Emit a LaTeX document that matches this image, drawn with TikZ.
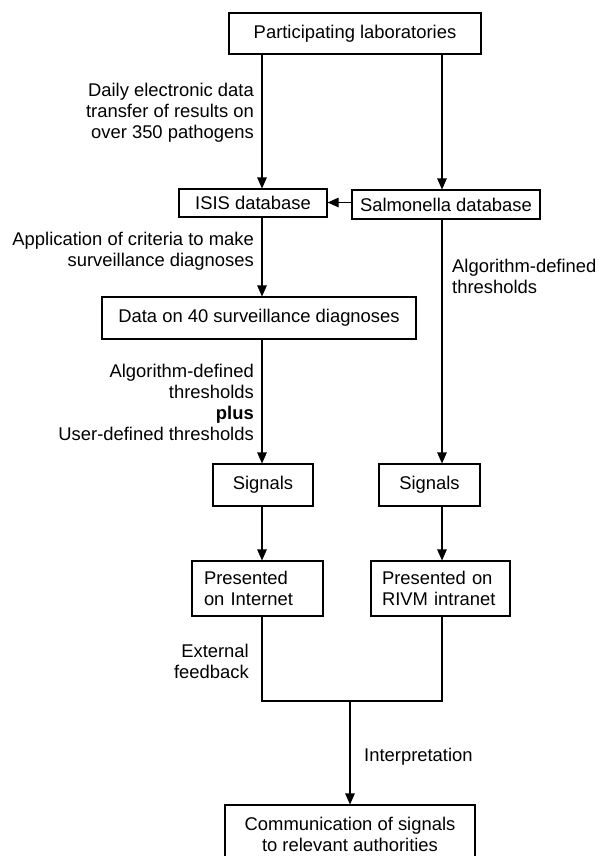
\documentclass[tikz,border=0pt]{standalone}
\usepackage{fontspec}
\setmainfont{Liberation Sans}
\usetikzlibrary{arrows.meta}
\begin{document}
\begin{tikzpicture}[x=1pt,y=-1pt,
  every node/.style={font=\fontsize{18.4}{21}\selectfont},
  box/.style={draw, line width=1.1pt, rectangle, inner sep=0pt, align=center},
  lbl/.style={inner sep=0pt},
  arr/.style={line width=1.1pt, -{Triangle[length=11pt,width=9.5pt]}},
  conn/.style={line width=1.1pt}]
\useasboundingbox (0,0) rectangle (598,856);
\fill[white] (0,0) rectangle (598,856);

\coordinate (lx) at (262,0);
\coordinate (rx) at (442,0);
\coordinate (j) at (350,701);

\node[box, minimum width=252pt, minimum height=41pt] (lab) at (355,33.5)
  {\raisebox{-6pt}{Participating laboratories}};
\node[box, minimum width=148pt, minimum height=28pt] (isis) at (253,203)
  {\raisebox{-1pt}{ISIS database}};
\node[box, minimum width=188pt, minimum height=29pt] (salm) at (446,204.5)
  {\raisebox{-1pt}{Salmonella database}};
\node[box, minimum width=314pt, minimum height=42pt] (data) at (259,318)
  {\raisebox{2pt}{Data on 40 surveillance diagnoses}};
\node[box, minimum width=100pt, minimum height=42pt] (sigL) at (263,485)
  {\raisebox{2pt}{Signals}};
\node[box, minimum width=101pt, minimum height=42pt] (sigR) at (429.5,485)
  {\raisebox{2pt}{Signals}};
\node[box, inner xsep=12pt, text width=107pt, align=left, minimum height=55pt] (presL) at (257.5,588.5)
  {Presented\\on Internet};
\node[box, inner xsep=11pt, text width=117pt, align=left, minimum height=55pt] (presR) at (440.5,588.5)
  {Presented on\\RIVM intranet};
\node[box, minimum width=250pt, minimum height=59pt] (comm) at (350,834.5)
  {Communication of signals\\to relevant authorities};

\node[lbl, anchor=east, align=right] (l1) at (254,113)
  {Daily electronic data\\transfer of results on\\over 350 pathogens};
\node[lbl, anchor=east, align=right] (l2) at (254,251.5)
  {Application of criteria to make\\surveillance diagnoses};
\node[lbl, anchor=west, align=left] (l3) at (452,276.5)
  {Algorithm-defined\\thresholds};
\node[lbl, anchor=east, align=right] (l4) at (254,402.5)
  {Algorithm-defined\\thresholds\\\textbf{plus}\\User-defined thresholds};
\node[lbl, anchor=east, align=right] (l5) at (249,661.5)
  {External\\feedback};
\node[lbl, anchor=west] (l6) at (364,757) {Interpretation};

\draw[arr] (lab.south -| lx) -- (isis.north -| lx);
\draw[arr] (lab.south -| rx) -- (salm.north -| rx);
\draw[arr] (salm.west |- 0,202.5) -- (isis.east |- 0,202.5);
\draw[arr] (isis.south -| lx) -- (data.north -| lx);
\draw[arr] (salm.south -| rx) -- (sigR.north -| rx);
\draw[arr] (data.south -| lx) -- (sigL.north -| lx);
\draw[arr] (sigL.south -| lx) -- (presL.north -| lx);
\draw[arr] (sigR.south -| rx) -- (presR.north -| rx);
\draw[conn] (presL.south -| lx) -- (lx |- j) -- (rx |- j) -- (presR.south -| rx);
\draw[arr] (j) -- (comm.north);
\end{tikzpicture}
\end{document}
